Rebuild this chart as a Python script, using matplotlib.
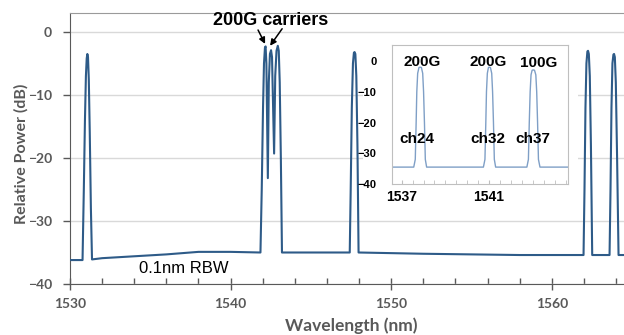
import matplotlib
matplotlib.use('Agg')
import matplotlib.pyplot as plt
from matplotlib.patches import Rectangle
from matplotlib.ticker import MultipleLocator, FixedLocator

# main spectrum (wavelength nm, relative power dB)
wl = [1530.0, 1530.78, 1530.86, 1530.93, 1530.99, 1531.04, 1531.08, 1531.12, 1531.17, 1531.23, 1531.30, 1531.37,
      1532.0, 1534.0, 1536.0, 1538.0, 1540.0, 1541.86,
      1541.94, 1542.02, 1542.08, 1542.14, 1542.18, 1542.23, 1542.32, 1542.38, 1542.45, 1542.52, 1542.58,
      1542.71, 1542.78, 1542.86, 1542.94, 1543.00, 1543.06, 1543.13, 1543.20,
      1545.0, 1547.42,
      1547.48, 1547.55, 1547.62, 1547.68, 1547.72, 1547.77, 1547.83, 1547.90, 1547.97,
      1550.0, 1552.0, 1555.0, 1558.0, 1561.98,
      1562.04, 1562.10, 1562.16, 1562.22, 1562.26, 1562.31, 1562.37, 1562.44, 1562.52,
      1563.60,
      1563.66, 1563.72, 1563.78, 1563.84, 1563.88, 1563.93, 1563.99, 1564.07, 1564.16,
      1564.6]
pw = [-36.2, -36.2, -25.0, -14.0, -7.0, -4.2, -3.5, -4.0, -7.5, -16.0, -28.0, -36.1,
      -35.9, -35.6, -35.3, -34.9, -34.9, -35.0,
      -25.0, -12.0, -5.0, -2.5, -2.3, -5.0, -23.2, -8.0, -3.5, -2.9, -4.0,
      -19.3, -7.0, -3.0, -2.2, -3.0, -8.0, -20.0, -35.0,
      -35.0, -35.0,
      -25.0, -12.0, -5.0, -3.3, -3.2, -3.5, -7.0, -18.0, -35.0,
      -35.1, -35.2, -35.3, -35.4, -35.4,
      -25.0, -12.0, -5.0, -3.1, -3.0, -3.5, -7.0, -18.0, -35.4,
      -35.4,
      -25.0, -12.0, -5.0, -3.6, -3.5, -4.0, -8.0, -20.0, -35.4,
      -35.4]

# inset spectrum
wl_in = [1536.54, 1537.55, 1537.62, 1537.66, 1537.69, 1537.73, 1537.79, 1537.84, 1537.90, 1537.96, 1538.00, 1538.04, 1538.08, 1538.14,
         1540.74, 1540.81, 1540.85, 1540.88, 1540.92, 1540.97, 1541.01, 1541.06, 1541.12, 1541.16, 1541.20, 1541.24, 1541.30,
         1542.73, 1542.80, 1542.84, 1542.88, 1542.92, 1542.97, 1543.02, 1543.08, 1543.14, 1543.18, 1543.22, 1543.26, 1543.33,
         1544.6]
pw_in = [-34.5, -34.5, -32.0, -20.0, -10.0, -4.0, -2.1, -2.0, -2.1, -4.0, -10.0, -20.0, -32.0, -34.5,
         -34.5, -32.0, -20.0, -10.0, -4.0, -2.1, -2.0, -2.1, -4.0, -10.0, -20.0, -32.0, -34.5,
         -34.5, -32.0, -20.0, -10.0, -4.5, -3.0, -2.9, -3.0, -4.5, -10.0, -20.0, -32.0, -34.5,
         -34.5]

in_rate = ['200G', '200G', '100G']
in_rate_x = [1537.93, 1540.96, 1543.25]
in_rate_y = [-0.3, -0.3, -0.6]
in_ch = ['ch24', 'ch32', 'ch37']
in_ch_x = [1537.70, 1540.96, 1542.98]

grey = '#595959'
blue = '#2E5B88'

fig = plt.figure(figsize=(6.24, 3.35), dpi=100)
ax = fig.add_axes([0.1122, 0.1522, 0.8878, 0.8090])

ax.plot(wl, pw, color=blue, lw=1.5, zorder=3)
ax.set_xlim(1530, 1564.5)
ax.set_ylim(-40, 3)
ax.set_yticks([-40, -30, -20, -10, 0])
ax.xaxis.set_major_locator(MultipleLocator(10))
ax.xaxis.set_minor_locator(MultipleLocator(2))
ax.grid(axis='y', color='#D9D9D9', lw=1.0, zorder=0)
ax.set_axisbelow(True)

ax.spines['right'].set_visible(False)
ax.spines['top'].set_color('#9A9A9A')
ax.spines['left'].set_color(grey)
ax.spines['bottom'].set_color(grey)
ax.tick_params(axis='x', which='major', direction='inout', length=8, width=1, color=grey, pad=6)
ax.tick_params(axis='x', which='minor', direction='in', length=4, width=1, color=grey)
ax.tick_params(axis='y', which='major', direction='out', length=5, width=1, color=grey, pad=8)
for lab in ax.get_xticklabels() + ax.get_yticklabels():
    lab.set_fontfamily('Lato')
    lab.set_fontweight('bold')
    lab.set_fontsize(10)
    lab.set_color(grey)

fig.text(0.034, 0.54, 'Relative Power (dB)', rotation=90, ha='center', va='center', fontfamily='Lato',
         fontweight='bold', fontsize=11.5, color=grey)
fig.text(0.5625, 0.003, 'Wavelength (nm)', ha='center', va='bottom', fontfamily='Lato',
         fontweight='bold', fontsize=12.5, color=grey)

ax.text(1542.52, 1.75, '200G carriers', ha='center', va='center', fontfamily='Liberation Sans',
        fontweight='bold', fontsize=13, color='black')
ax.annotate('', xy=(1542.15, -1.9), xytext=(1541.71, 0.3),
            arrowprops=dict(arrowstyle='-|>', color='black', lw=1.1, mutation_scale=9, shrinkA=0, shrinkB=0))
ax.annotate('', xy=(1542.46, -2.2), xytext=(1543.21, 0.5),
            arrowprops=dict(arrowstyle='-|>', color='black', lw=1.1, mutation_scale=9, shrinkA=0, shrinkB=0))
ax.text(1537.1, -37.5, '0.1nm RBW', ha='center', va='center', fontfamily='Liberation Sans',
        fontsize=12, color='black')

# white area behind the inset
fig.patches.append(Rectangle((0.5817, 0.388), 0.3446, 0.5045, transform=fig.transFigure,
                             facecolor='white', edgecolor='none', zorder=1))

axi = fig.add_axes([0.6277, 0.4507, 0.2821, 0.4149])
axi.set_zorder(2)
axi.plot(wl_in, pw_in, color='#7F9FC6', lw=1.0)
axi.set_xlim(1536.54, 1544.6)
axi.set_ylim(-40, 5.2)
axi.set_yticks([-40, -30, -20, -10, 0])
axi.xaxis.set_major_locator(FixedLocator([1537, 1541]))
axi.xaxis.set_minor_locator(MultipleLocator(0.5))
for s in axi.spines.values():
    s.set_color('#BFBFBF')
axi.tick_params(axis='y', length=0, pad=11)
axi.tick_params(axis='x', which='both', direction='in', length=3, color='#BFBFBF', pad=4)
for lab in axi.get_yticklabels():
    lab.set_fontfamily('Liberation Sans')
    lab.set_fontweight('bold')
    lab.set_fontsize(8)
for lab in axi.get_xticklabels():
    lab.set_fontfamily('Liberation Sans')
    lab.set_fontweight('bold')
    lab.set_fontsize(10)

for t, x, y in zip(in_rate, in_rate_x, in_rate_y):
    axi.text(x, y, t, ha='center', va='center', fontfamily='Liberation Sans', fontweight='bold', fontsize=11)
for t, x in zip(in_ch, in_ch_x):
    axi.text(x, -25.2, t, ha='center', va='center', fontfamily='Liberation Sans', fontweight='bold', fontsize=11)

fig.savefig('out.png', dpi=100)
